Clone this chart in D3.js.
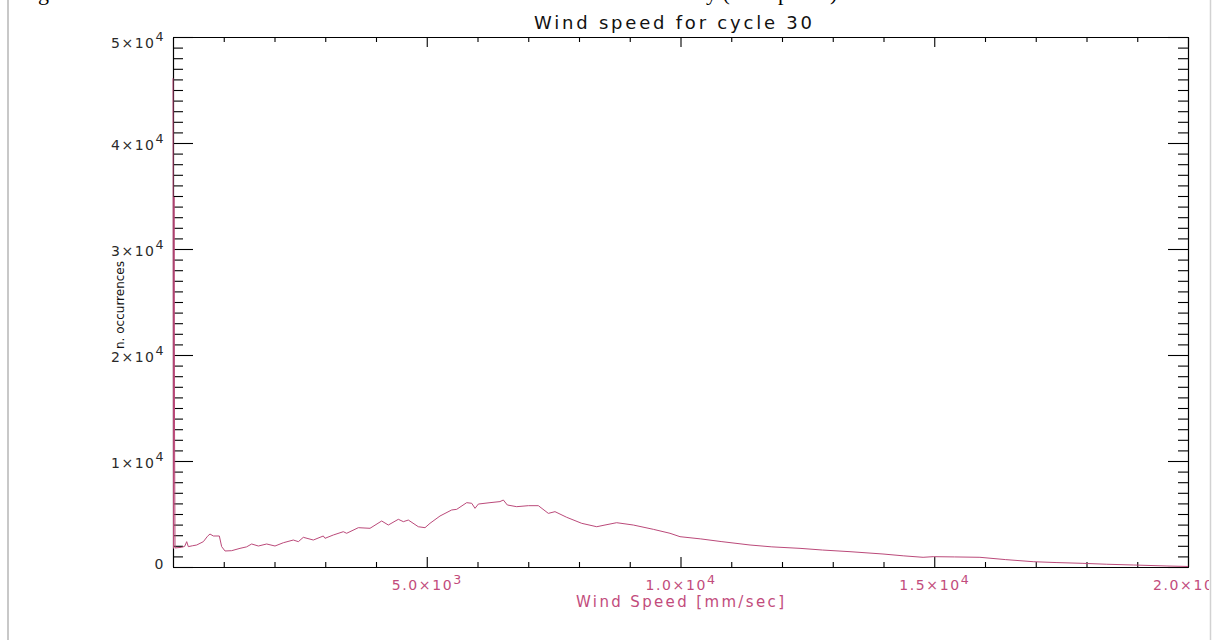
<!DOCTYPE html>
<html>
<head>
<meta charset="utf-8">
<script src="https://cdn.jsdelivr.net/npm/d3@7"></script>
<style>
  html, body { margin: 0; padding: 0; background: #fff; overflow: hidden; }
  svg { display: block; }
</style>
</head>
<body>
<script>
// Histogram of wind speed (mm/sec) against number of occurrences
const speeds = [
  0, 10, 20, 30, 40, 171, 230, 270, 302, 380, 467, 598, 680, 729, 795, 913, 959,
  1025, 1156, 1320, 1450, 1550, 1682, 1846, 2010, 2174, 2371, 2470, 2568, 2765,
  2962, 2995, 3159, 3356, 3422, 3652, 3882, 4112, 4243, 4440, 4539, 4637, 4834,
  4966, 5064, 5261, 5491, 5590, 5787, 5886, 5951, 6017, 6246, 6443, 6509, 6588,
  6772, 7002, 7199, 7396, 7527, 7757, 8053, 8349, 8512, 8742, 9070, 9464, 9793,
  9990, 10400, 10800, 11370, 11800, 12355, 12800, 13340, 13990, 14400, 14780,
  14980, 15400, 15900, 16400, 16950, 17400, 17930, 18400, 18920, 19585, 20000
];
const counts = [
  46100, 1760, 34900, 13400, 1800, 1855, 1950, 2390, 1920, 2000, 2075, 2390, 2900, 3110, 2925, 2925, 1920,
  1510, 1540, 1760, 1900, 2170, 1980, 2170, 1980, 2290, 2545, 2390, 2800, 2545,
  2925, 2705, 3020, 3330, 3180, 3710, 3650, 4340, 3960, 4500, 4275, 4430, 3800,
  3710, 4120, 4810, 5380, 5440, 6070, 6010, 5535, 5940, 6070, 6170, 6320, 5850,
  5690, 5785, 5785, 5060, 5220, 4690, 4120, 3800, 3960, 4180, 3960, 3555, 3180,
  2860, 2650, 2400, 2075, 1900, 1760, 1600, 1445, 1225, 1050, 915,
  975, 950, 915, 700, 500, 420, 345, 260, 190, 95, 50
];

const xMajorTicks = [5000, 10000, 15000, 20000];
const xTickLabels = [["5.0×10", "3"], ["1.0×10", "4"], ["1.5×10", "4"], ["2.0×10", "4"]];
const yMajorTicks = [0, 10000, 20000, 30000, 40000, 50000];
const yTickLabels = [["0", ""], ["1×10", "4"], ["2×10", "4"], ["3×10", "4"], ["4×10", "4"], ["5×10", "4"]];
const minorStep = 1000;

const titleText = "Wind speed for cycle 30";
const xTitleText = "Wind Speed [mm/sec]";
const yTitleText = "n. occurrences";

const W = 1213, H = 640;
const plot = { left: 173, right: 1188, top: 37, bottom: 567 };
const lineColor = "#bb4a7a";
const pinkText = "#c24c7c";
const font = "DejaVu Sans, Verdana, sans-serif";

const svg = d3.select("body").append("svg").attr("width", W).attr("height", H);
svg.append("rect").attr("width", W).attr("height", H).attr("fill", "#fff");

svg.append("clipPath").attr("id", "page")
  .append("rect").attr("x", 0).attr("y", 0).attr("width", 1209).attr("height", H);
const g = svg.append("g").attr("clip-path", "url(#page)");

const x = d3.scaleLinear().domain([0, 20000]).range([plot.left, plot.right]);
const y = d3.scaleLinear().domain([0, 50000]).range([plot.bottom, plot.top]);

const xMinor = d3.range(0, 20001, minorStep).filter(v => !xMajorTicks.includes(v) && v > 0 && v < 20000);
const yMinor = d3.range(0, 50001, minorStep).filter(v => !yMajorTicks.includes(v) && v > 0 && v < 50000);

// mantissa plus raised exponent
function writeLabel(sel, parts) {
  sel.text(null);
  sel.append("tspan").text(parts[0]);
  if (parts[1]) sel.append("tspan").attr("dy", "-0.5em").attr("font-size", "0.9em").text(parts[1]);
}

function styleAxis(sel) {
  sel.select(".domain").attr("stroke", "#000").attr("stroke-width", 1.1);
  sel.selectAll(".tick line").attr("stroke", "#000").attr("stroke-width", 1.1);
  sel.attr("font-family", font);
}

// bottom axis
const gxMinor = g.append("g").attr("transform", `translate(0,${plot.bottom})`)
  .call(d3.axisBottom(x).tickValues(xMinor).tickSize(-5).tickSizeOuter(0).tickFormat(""));
styleAxis(gxMinor);
const gx = g.append("g").attr("transform", `translate(0,${plot.bottom})`)
  .call(d3.axisBottom(x).tickValues(xMajorTicks).tickSize(-10).tickSizeOuter(0).tickPadding(0)
    .tickFormat((d, i) => xTickLabels[i].join("")));
styleAxis(gx);
gx.selectAll(".tick text").each(function (d, i) {
  const t = d3.select(this);
  t.attr("y", 23).attr("dy", null).attr("fill", pinkText).attr("font-size", 14)
   .attr("letter-spacing", "1.6px").attr("text-anchor", "middle");
  writeLabel(t, xTickLabels[i]);
});

// top axis
const gtMinor = g.append("g").attr("transform", `translate(0,${plot.top})`)
  .call(d3.axisTop(x).tickValues(xMinor).tickSize(-5).tickSizeOuter(0).tickFormat(""));
styleAxis(gtMinor);
const gt = g.append("g").attr("transform", `translate(0,${plot.top})`)
  .call(d3.axisTop(x).tickValues(xMajorTicks).tickSize(-10).tickSizeOuter(0).tickFormat(""));
styleAxis(gt);

// left axis
const gyMinor = g.append("g").attr("transform", `translate(${plot.left},0)`)
  .call(d3.axisLeft(y).tickValues(yMinor).tickSize(-10).tickSizeOuter(0).tickFormat(""));
styleAxis(gyMinor);
const gy = g.append("g").attr("transform", `translate(${plot.left},0)`)
  .call(d3.axisLeft(y).tickValues(yMajorTicks).tickSize(-20).tickSizeOuter(0).tickPadding(8)
    .tickFormat((d, i) => yTickLabels[i].join("")));
styleAxis(gy);
gy.selectAll(".tick text").each(function (d, i) {
  const t = d3.select(this);
  const shift = d === 0 ? 1 : (d === 50000 ? 10 : 6);
  t.attr("dy", null).attr("y", shift).attr("fill", "#2a2a2a").attr("font-size", 14)
   .attr("letter-spacing", "1.5px").attr("text-anchor", "end");
  writeLabel(t, yTickLabels[i]);
});

// right axis
const grMinor = g.append("g").attr("transform", `translate(${plot.right},0)`)
  .call(d3.axisRight(y).tickValues(yMinor).tickSize(-10).tickSizeOuter(0).tickFormat(""));
styleAxis(grMinor);
const gr = g.append("g").attr("transform", `translate(${plot.right},0)`)
  .call(d3.axisRight(y).tickValues(yMajorTicks).tickSize(-20).tickSizeOuter(0).tickFormat(""));
styleAxis(gr);

// histogram curve
const line = d3.line().x((d, i) => x(speeds[i])).y(d => y(d));
g.append("path").datum(counts)
  .attr("d", line)
  .attr("fill", "none")
  .attr("stroke", lineColor)
  .attr("stroke-width", 1)
  .attr("stroke-linejoin", "round");

// titles
g.append("text").attr("x", 673).attr("y", 29)
  .attr("text-anchor", "middle").attr("font-family", font).attr("font-size", 18)
  .attr("fill", "#111").attr("textLength", 278).attr("lengthAdjust", "spacing")
  .text(titleText);

g.append("text").attr("x", 680).attr("y", 607)
  .attr("text-anchor", "middle").attr("font-family", font).attr("font-size", 15)
  .attr("fill", pinkText).attr("textLength", 208).attr("lengthAdjust", "spacing")
  .text(xTitleText);

g.append("text").attr("transform", "translate(124,305) rotate(-90)")
  .attr("text-anchor", "middle").attr("font-family", font).attr("font-size", 12)
  .attr("fill", "#111").attr("textLength", 88).attr("lengthAdjust", "spacingAndGlyphs")
  .text(yTitleText);

// page edges and the clipped caption line above the figure
svg.append("line").attr("x1", 8).attr("x2", 8).attr("y1", 0).attr("y2", H)
  .attr("stroke", "#c8c8c8").attr("stroke-width", 2);
svg.append("line").attr("x1", 1210.5).attr("x2", 1210.5).attr("y1", 0).attr("y2", H)
  .attr("stroke", "#d2d2d2").attr("stroke-width", 1.5);

const caption = svg.append("g").attr("font-family", "Liberation Serif, serif")
  .attr("font-size", 22).attr("fill", "#000");
caption.append("text").attr("x", 38).attr("y", 0).text("g");
caption.append("text").attr("x", 706).attr("y", 0).text("y (");
caption.append("text").attr("x", 778).attr("y", 0).text("p");
caption.append("text").attr("x", 830).attr("y", 0).text(")");
</script>
</body>
</html>
